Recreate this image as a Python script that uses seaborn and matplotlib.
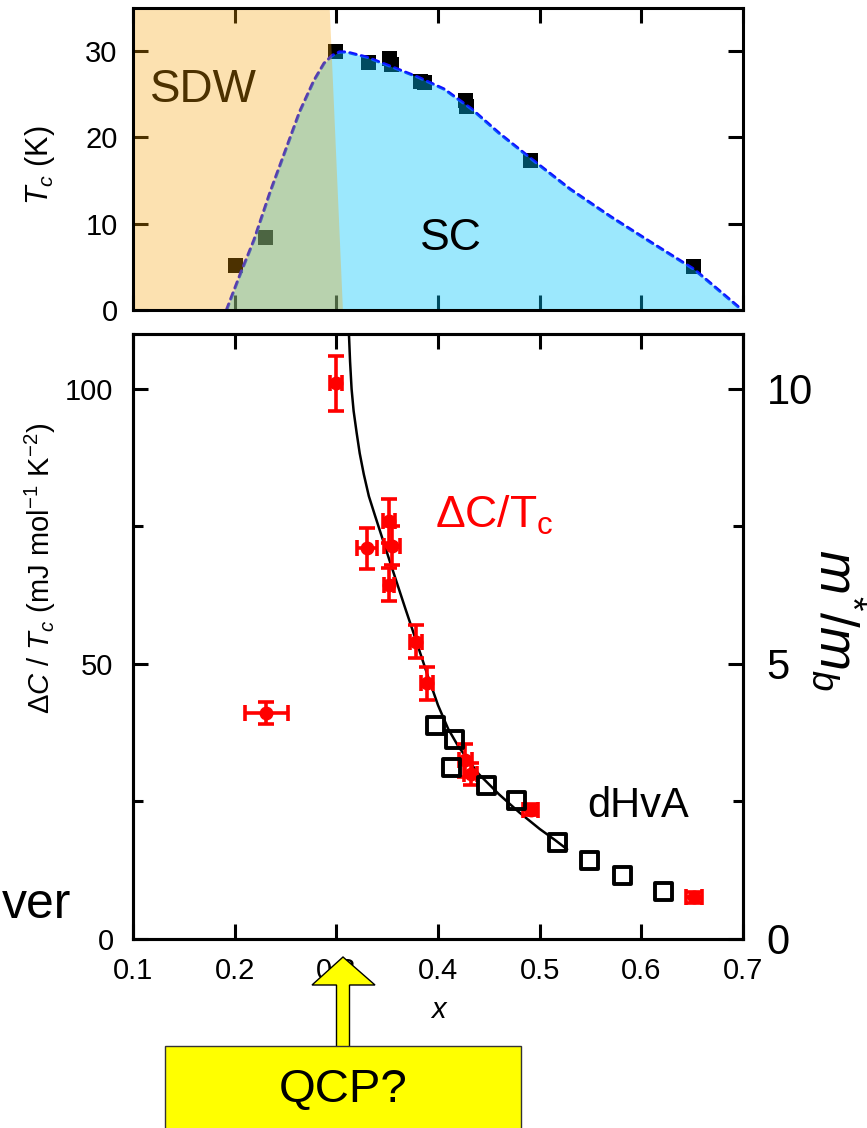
import numpy as np
import pandas as pd
import matplotlib
matplotlib.use("Agg")
import matplotlib.pyplot as plt
import seaborn as sns
from matplotlib.patches import Polygon, Rectangle

# ---------------- data ----------------
# Tc phase diagram (top panel)
tc_x = [0.201, 0.230, 0.299, 0.332, 0.352, 0.354, 0.383, 0.387, 0.427, 0.428, 0.491, 0.651]
tc_k = [5.2, 8.4, 30.0, 28.7, 29.1, 28.5, 26.5, 26.4, 24.3, 23.6, 17.3, 5.0]

dome_x = [0.192, 0.206, 0.219, 0.235, 0.250, 0.264, 0.278, 0.288, 0.296, 0.303, 0.310,
          0.330, 0.352, 0.380, 0.406, 0.433, 0.460, 0.493, 0.530, 0.570, 0.610, 0.652, 0.699]
dome_tc = [0.0, 4.3, 8.1, 13.7, 18.5, 23.0, 26.6, 28.6, 29.5, 29.9, 29.9,
           29.3, 28.3, 27.0, 25.6, 23.3, 20.5, 17.4, 14.0, 10.8, 7.8, 4.7, 0.0]

sdw_edge_x = [0.306, 0.293]
sdw_edge_y = [0.0, 35.0]

# specific heat jump (bottom panel, left axis)
dc_x = [0.2996, 0.330, 0.352, 0.355, 0.352, 0.378, 0.389, 0.231, 0.427, 0.432, 0.491, 0.652]
dc_val = [101.0, 71.0, 76.0, 71.5, 64.4, 54.0, 46.5, 41.0, 32.5, 30.0, 23.5, 7.6]
dc_yerr = [5.0, 3.7, 4.0, 3.5, 3.0, 3.0, 3.0, 2.0, 3.0, 2.0, 1.0, 1.0]
dc_xerr = [0.006, 0.010, 0.006, 0.008, 0.005, 0.006, 0.006, 0.021, 0.006, 0.006, 0.007, 0.008]

# dHvA effective mass (bottom panel, right axis)
dh_x = [0.398, 0.416, 0.413, 0.448, 0.477, 0.518, 0.549, 0.581, 0.622]
dh_m = [3.89, 3.62, 3.11, 2.79, 2.51, 1.76, 1.42, 1.15, 0.87]

# guide-to-the-eye curve
fit_x = [0.3124, 0.3135, 0.315, 0.317, 0.320, 0.323, 0.327, 0.332, 0.338, 0.345, 0.352,
         0.360, 0.368, 0.378, 0.390, 0.400, 0.410, 0.420, 0.440, 0.460, 0.480, 0.500,
         0.515, 0.527]
fit_y = [110.0, 105.0, 100.0, 96.0, 92.0, 88.3, 84.5, 80.5, 77.0, 73.0, 69.0,
         64.5, 60.0, 54.5, 47.8, 42.5, 38.2, 35.0, 30.0, 26.3, 23.0, 20.0,
         18.0, 16.3]

xticks = [0.1, 0.2, 0.3, 0.4, 0.5, 0.6, 0.7]
xticklabels = ["0.1", "0.2", "0.3", "0.4", "0.5", "0.6", "0.7"]

# ---------------- style ----------------
sns.set_theme(style="ticks")
plt.rcParams['font.family'] = ['Liberation Sans', 'DejaVu Sans']
plt.rcParams['mathtext.fontset'] = 'custom'
plt.rcParams['mathtext.rm'] = 'Liberation Sans'
plt.rcParams['mathtext.it'] = 'Liberation Sans:italic'
plt.rcParams['mathtext.bf'] = 'Liberation Sans:bold'
plt.rcParams['axes.linewidth'] = 2.2
for k in ['text.color', 'axes.labelcolor', 'xtick.color', 'ytick.color', 'axes.edgecolor']:
    plt.rcParams[k] = 'black'

fig = plt.figure(figsize=(8.67, 11.28), dpi=100)
ax1 = fig.add_axes([0.1534, 0.7252, 0.7036, 0.2677])
ax2 = fig.add_axes([0.1534, 0.1676, 0.7036, 0.5363])

# ---------------- top panel ----------------
sns.scatterplot(x=tc_x, y=tc_k, marker='s', s=118, color='black', edgecolor='none',
                linewidth=0, ax=ax1, zorder=1.8)
ax1.plot(dome_x, dome_tc, color='#1010ff', lw=2.3, ls=(0, (2.0, 1.7)),
         dash_capstyle='round', zorder=1.9)
ax1.text(0.1167, 24.1, 'SDW', fontsize=33, color='black', ha='left', va='baseline', zorder=1.9)
ax1.fill_between(dome_x, 0, dome_tc, color=(0, 196/255, 250/255), alpha=0.39, lw=0, zorder=2.0)
ax1.fill_betweenx(sdw_edge_y, 0.1, sdw_edge_x, color=(248/255, 161/255, 0), alpha=0.31, lw=0, zorder=2.1)
ax1.text(0.413, 8.3, 'SC', fontsize=32, color='black', ha='center', va='center', zorder=3)

ax1.set_xlim(0.1, 0.7)
ax1.set_ylim(0, 35)
ax1.set_xticks(xticks)
ax1.set_yticks([0, 10, 20, 30])
ax1.set_yticklabels(["0", "10", "20", "30"])
ax1.tick_params(axis='both', which='major', direction='in', length=11, width=2.2,
                top=True, right=True, labelsize=21, pad=11)
ax1.tick_params(axis='x', labelbottom=False)
ax1.set_xlabel('')
ax1.set_ylabel(r'$T_c$ (K)', fontsize=22, va='center', ha='center')
ax1.yaxis.set_label_coords(-0.152, 0.48)
for s in ax1.spines.values():
    s.set_linewidth(2.2)
    s.set_zorder(3)

# ---------------- bottom panel ----------------
sns.lineplot(x=fit_x, y=fit_y, color='black', lw=1.8, estimator=None, sort=False, ax=ax2, zorder=2)
ax2.errorbar(dc_x, dc_val, yerr=dc_yerr, xerr=dc_xerr, fmt='o', color='red', ms=9,
             mec='red', elinewidth=2.6, capsize=6, capthick=2.6, zorder=3)
ax2.set_xlim(0.1, 0.7)
ax2.set_ylim(0, 110)
ax2.set_xticks(xticks)
ax2.set_xticklabels(xticklabels)
ax2.set_yticks([0, 50, 100])
ax2.set_yticklabels(["0", "50", "100"])
ax2.set_yticks([25, 75], minor=True)
ax2.tick_params(axis='both', which='major', direction='in', length=11, width=2.2,
                top=True, right=False, labelsize=21, pad=13)
ax2.tick_params(axis='y', which='minor', direction='in', length=7, width=2.2, right=False)
ax2.tick_params(axis='y', labelsize=21, pad=14)
ax2.set_xlabel('x', fontsize=21, style='italic', va='center')
ax2.xaxis.set_label_coords(0.5, -0.117)
ax2.set_ylabel(r'$\Delta C$ / $T_c$ (mJ mol$^{-1}$ K$^{-2}$)', fontsize=21, va='center', ha='center')
ax2.yaxis.set_label_coords(-0.152, 0.613)

ax2r = ax2.twinx()
sns.scatterplot(x=dh_x, y=dh_m, marker='s', s=150, facecolor='none', edgecolor='black',
                linewidth=2.8, ax=ax2r, zorder=4)
ax2r.set_ylim(0, 11)
ax2r.set_yticks([0, 5, 10])
ax2r.set_yticklabels(["0", "5", "10"])
ax2r.set_yticks([2.5, 7.5], minor=True)
ax2r.tick_params(axis='y', which='major', direction='in', length=11, width=2.2, labelsize=30, pad=17)
ax2r.tick_params(axis='y', which='minor', direction='in', length=7, width=2.2)
ax2r.set_ylabel(r'$m^{*}/m_b$', fontsize=38, rotation=270, va='center', ha='center')
ax2r.yaxis.set_label_coords(1.154, 0.527)
for a in (ax2, ax2r):
    for s in a.spines.values():
        s.set_linewidth(2.2)

ax2.text(0.397, 74.7, r'ΔC/T$_\mathrm{c}$', fontsize=32, color='red', ha='left', va='baseline')
ax2.text(0.5465, 22.2, 'dHvA', fontsize=30, color='black', ha='left', va='baseline')

# ---------------- annotations outside the axes ----------------
W, H = 867.0, 1128.0
def fp(px, py):
    return (px / W, 1 - py / H)

arrow_px = [(343, 957), (375, 985), (349.5, 985), (349.5, 1047),
            (336.5, 1047), (336.5, 985), (312, 985)]
fig.patches.append(Polygon([fp(*p) for p in arrow_px], closed=True,
                           transform=fig.transFigure, facecolor='#ffff00',
                           edgecolor='black', lw=1.0, zorder=10))
bx0, by0 = fp(165, 1135)
bx1, by1 = fp(521, 1046)
fig.patches.append(Rectangle((bx0, by0), bx1 - bx0, by1 - by0, transform=fig.transFigure,
                             facecolor='#ffff00', edgecolor='#333333', lw=1.0, zorder=10))
fig.text(343 / W, 1 - 1090 / H, 'QCP?', fontsize=34, color='black', ha='center', va='center', zorder=11)
fig.text(2 / W, 1 - 918 / H, 'ver', fontsize=36, color='black', ha='left', va='baseline')

fig.savefig('out.png', dpi=100)
